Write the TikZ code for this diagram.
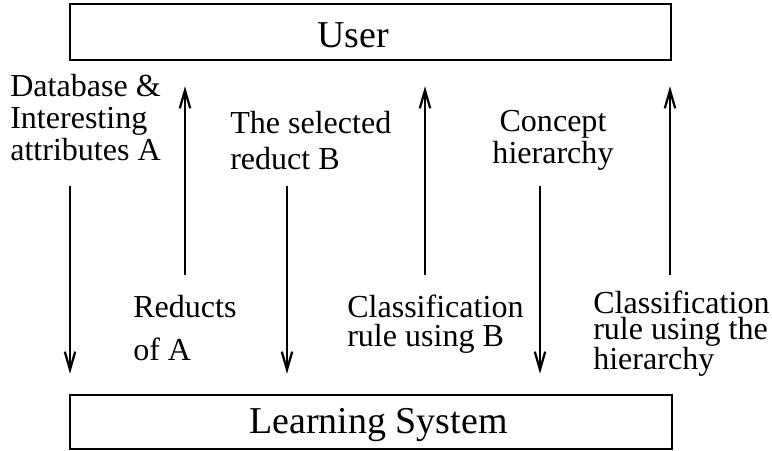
\documentclass[tikz,border=0pt]{standalone}
\usepackage{fontspec}
\setmainfont{Liberation Serif}
\usetikzlibrary{calc}
\usetikzlibrary{positioning}
\usetikzlibrary{arrows.meta}

\begin{document}
\begin{tikzpicture}
    \tikzstyle{block}=[draw, line width=1.8pt, inner sep=0pt]
    \tikzstyle{big}=[inner sep=0pt, anchor=base, font=\fontsize{27}{30}\selectfont]
    \tikzstyle{lbl}=[inner sep=0pt, anchor=base west, align=left]
    \tikzstyle{flow}=[line width=1.6pt, -{Straight Barb[length=0.45cm, width=0.26cm]}]

    \useasboundingbox (0, 0) rectangle (19.3, 11.25);

    % User and Learning System
    \node[block, minimum width=15.025cm, minimum height=1.4cm] (user) at (9.2625, 10.45) {};
    \node[big] (usertext) at (8.825, 10.05) {User};
    \node[block, minimum width=15.05cm, minimum height=1.35cm] (ls) at (9.275, 0.7) {};
    \node[big] (lstext) at (9.4625, 0.425) {Learning System};

    % arrow starts
    \coordinate (d1) at (1.75, 6.6);
    \coordinate (u2) at (4.625, 4.375);
    \coordinate (d3) at (7.175, 6.6);
    \coordinate (u4) at (10.625, 4.375);
    \coordinate (d5) at (13.5, 6.6);
    \coordinate (u6) at (16.75, 4.375);

    \draw[flow, shorten >=0.5cm] (d1) -- (d1 |- ls.north);
    \draw[flow, shorten >=0.625cm] (u2) -- (u2 |- user.south);
    \draw[flow, shorten >=0.5cm] (d3) -- (d3 |- ls.north);
    \draw[flow, shorten >=0.625cm] (u4) -- (u4 |- user.south);
    \draw[flow, shorten >=0.5cm] (d5) -- (d5 |- ls.north);
    \draw[flow, shorten >=0.625cm] (u6) -- (u6 |- user.south);

    % labels (base = last line)
    \node[lbl, font=\fontsize{22.8}{23.1}\selectfont] (db) at (0.25, 7.225)
      {Database \&\\Interesting\\attributes A};
    \node[lbl, font=\fontsize{22.8}{29.9}\selectfont] (reducts) at (3.325, 2.25)
      {Reducts\\of A};
    \node[lbl, font=\fontsize{22.8}{26}\selectfont] (sel) at (5.75, 7.0)
      {The selected\\reduct B};
    \node[lbl, anchor=base, align=center, font=\fontsize{22.8}{22.8}\selectfont] (concept) at (13.825, 7.15)
      {Concept\\hierarchy};
    \node[lbl, font=\fontsize{22.8}{21.3}\selectfont] (rule) at (8.675, 2.575)
      {Classification\\rule using B};
    \node[lbl, font=\fontsize{22.8}{18.1}\selectfont] (rulehier) at (14.825, 2.0)
      {Classification\\rule using the\\hierarchy};
\end{tikzpicture}
\end{document}
